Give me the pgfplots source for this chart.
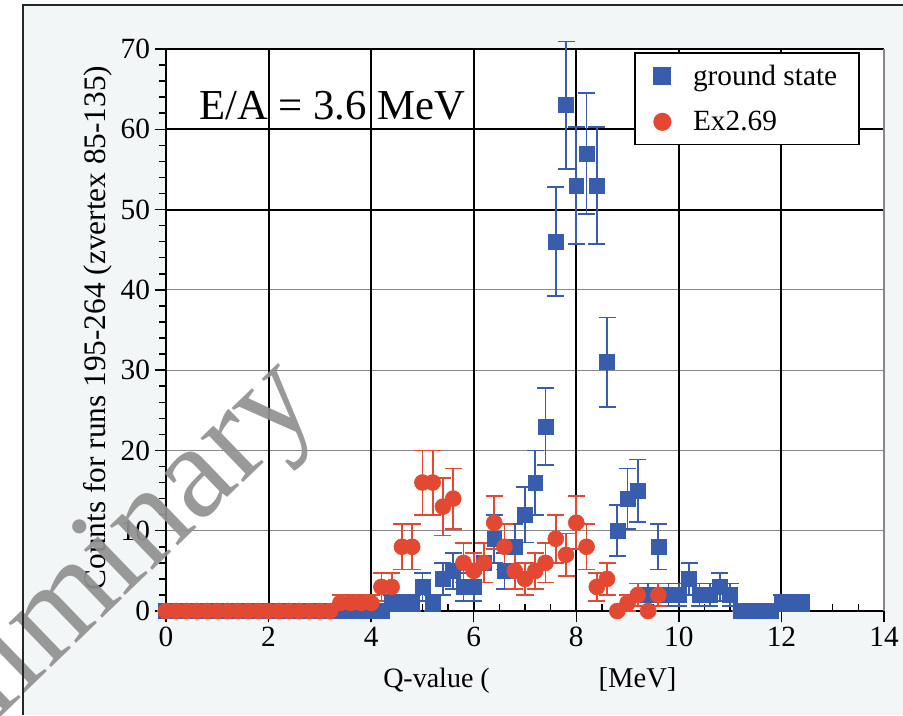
\documentclass[border=0pt]{standalone}
\usepackage{fontspec}
\setmainfont{Liberation Serif}
\usepackage{pgfplots}
\usepackage{pgfplotstable}
\pgfplotsset{compat=1.18}
\definecolor{gsblue}{RGB}{56,93,173}
\definecolor{exred}{RGB}{226,72,50}
\definecolor{bgc}{RGB}{242,246,247}
\definecolor{gridgray}{RGB}{135,135,135}
\definecolor{wm}{RGB}{145,145,145}

\pgfplotstableread{
x y e
0.0 0 0
0.2 0 0
0.4 0 0
0.6 0 0
0.8 0 0
1.0 0 0
1.2 0 0
1.4 0 0
1.6 0 0
1.8 0 0
2.0 0 0
2.2 0 0
2.4 0 0
2.6 0 0
2.8 0 0
3.0 0 0
3.2 0 0
3.4 0 0
3.6 0 0
3.8 0 0
4.0 0 0
4.2 0 0
4.4 1 1
4.6 1 1
4.8 1 1
5.0 3 1.732
5.2 1 1
5.4 4 2
5.6 5 2.236
5.8 3 1.732
6.0 3 1.732
6.2 6 2.449
6.4 9 3
6.6 5 2.236
6.8 8 2.828
7.0 12 3.464
7.2 16 4
7.4 23 4.796
7.6 46 6.782
7.8 63 7.937
8.0 53 7.280
8.2 57 7.550
8.4 53 7.280
8.6 31 5.568
8.8 10 3.162
9.0 14 3.742
9.2 15 3.873
9.4 2 1.414
9.6 8 2.828
9.8 2 1.414
10.0 2 1.414
10.2 4 2
10.4 2 1.414
10.6 2 1.414
10.8 3 1.732
11.0 2 1.414
11.2 0 0
11.4 0 0
11.6 0 0
11.8 0 0
12.0 1 1
12.2 1 1
12.4 1 1
}\gsdata

\pgfplotstableread{
x y e
0.0 0 0
0.2 0 0
0.4 0 0
0.6 0 0
0.8 0 0
1.0 0 0
1.2 0 0
1.4 0 0
1.6 0 0
1.8 0 0
2.0 0 0
2.2 0 0
2.4 0 0
2.6 0 0
2.8 0 0
3.0 0 0
3.2 0 0
3.4 1 1
3.6 1 1
3.8 1 1
4.0 1 1
4.2 3 1.732
4.4 3 1.732
4.6 8 2.828
4.8 8 2.828
5.0 16 4
5.2 16 4
5.4 13 3.606
5.6 14 3.742
5.8 6 2.449
6.0 5 2.236
6.2 6 2.449
6.4 11 3.317
6.6 8 2.828
6.8 5 2.236
7.0 4 2
7.2 5 2.236
7.4 6 2.449
7.6 9 3
7.8 7 2.646
8.0 11 3.317
8.2 8 2.828
8.4 3 1.732
8.6 4 2
8.8 0 0
9.0 1 1
9.2 2 1.414
9.4 0 0
9.6 2 1.414
}\exdata

\begin{document}
\begin{tikzpicture}[x=0.75pt,y=0.75pt]
\useasboundingbox (0,0) rectangle (903,715);
\fill[white] (0,0) rectangle (903,715);
\fill[bgc] (23,0) rectangle (903,710);
\begin{axis}[
  at={(124.5pt,78pt)}, anchor=south west,
  scale only axis, width=538.5pt, height=421.5pt,
  xmin=0, xmax=14, ymin=0, ymax=70,
  clip=false,
  axis background/.style={fill=white},
  axis line style={draw=none},
  tick pos=left,
  tick align=outside,
  xtick={0,2,...,14}, ytick={0,10,...,70},
  minor x tick num=3, minor y tick num=4,
  major tick length=8.5pt, minor tick length=5pt,
  every tick/.style={black, line width=1.1pt},
  minor x tick style={yshift=5pt},
  ymajorgrids, major grid style={gridgray, line width=0.8pt},
  extra x ticks={2,4,...,12}, extra x tick labels={},
  extra x tick style={grid=major, major grid style={black, line width=1.5pt}},
  extra y ticks={50,60}, extra y tick labels={},
  extra y tick style={grid=major, major grid style={black, line width=1.5pt}},
  tick label style={font=\fontsize{22}{24}\selectfont},
  /pgf/number format/assume math mode=true,
  legend style={at={(0.9666,0.9947)}, anchor=north east, draw=black, line width=1.2pt,
    fill=white, font=\fontsize{22}{24}\selectfont, row sep=14pt,
    inner xsep=14.5pt, inner ysep=7pt},
  legend cell align=left,
  legend image code/.code={\path[draw=none] (0pt,0pt) -- (26.5pt,0pt);
    \path[#1, only marks, mark size=6.2pt] plot coordinates {(5.5pt,0pt)};},
]
\draw[black, line width=1.5pt] (rel axis cs:0,1) -- (rel axis cs:0,0) -- (rel axis cs:1,0);
\draw[black, line width=1.5pt] (rel axis cs:0,1) -- (rel axis cs:1,1);
\draw[gridgray, line width=0.8pt] (rel axis cs:1,0) -- (rel axis cs:1,1);
\addplot[only marks, mark=square*, mark size=5.6pt, color=gsblue,
  error bars/.cd, y dir=both, y explicit,
  error bar style={line width=1.3pt, gsblue},
  error mark options={rotate=90, mark size=6.4pt, line width=1.3pt, gsblue}]
  table[x=x, y=y, y error=e] {\gsdata};
\addlegendentry{ground state}
\addplot[only marks, mark=*, mark size=6pt, color=exred,
  error bars/.cd, y dir=both, y explicit,
  error bar style={line width=1.3pt, exred},
  error mark options={rotate=90, mark size=6.4pt, line width=1.3pt, exred}]
  table[x=x, y=y, y error=e] {\exdata};
\addlegendentry{Ex2.69}
\end{axis}
\node[anchor=base west, inner sep=0pt, font=\fontsize{32}{36}\selectfont] at (199,595) {E/A = 3.6 MeV};
\node[anchor=base, inner sep=0pt, font=\fontsize{21}{24}\selectfont] at (436.5,28) {Q-value (};
\node[anchor=base, inner sep=0pt, font=\fontsize{21.5}{24}\selectfont] at (637.5,28) {[MeV]};
\node[rotate=90, inner sep=0pt, font=\fontsize{23.5}{25}\selectfont] at (98,387) {Counts for runs 195-264 (zvertex 85-135)};
\begin{scope}
\clip (0,0) rectangle (903,715);
\node[rotate=44, anchor=base west, inner sep=0pt, text=wm, opacity=0.92, font=\fontsize{100}{100}\selectfont] at (-132,-130) {Preliminary};
\end{scope}
\draw[line width=1.5pt, black!85] (23,0) -- (23,710) -- (903,710);
\end{tikzpicture}
\end{document}
